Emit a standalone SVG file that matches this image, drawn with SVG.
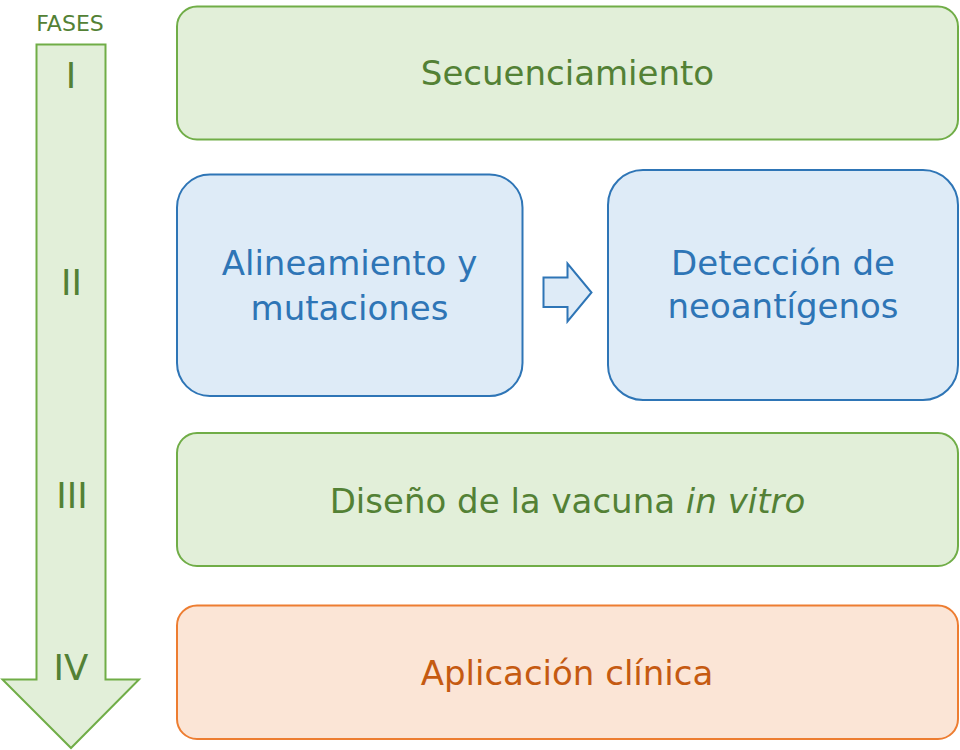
<svg xmlns="http://www.w3.org/2000/svg" width="960" height="750" viewBox="0 0 960 750">
<style>
text{font-family:"DejaVu Sans","Liberation Sans",sans-serif;text-anchor:middle}
.g{fill:#E2EFD9;stroke:#70AD47;stroke-width:2}
.b{fill:#DEEBF7;stroke:#2E75B6;stroke-width:2}
.o{fill:#FBE5D6;stroke:#ED7D31;stroke-width:2}
.tg{fill:#538135;font-size:34px}
.tb{fill:#2E75B6;font-size:34px}
.to{fill:#C55A11;font-size:34px}
.rn{fill:#538135;font-size:35.5px}
.lbl{fill:#538135;font-size:22px}
</style>
<rect width="960" height="750" fill="#FFFFFF"/>
<g id="fases">
<text class="lbl" x="70" y="31">FASES</text>
<polygon class="g" points="36.5,44.5 105.5,44.5 105.5,679.5 139,679.5 71,748 2.5,679.5 36.5,679.5"/>
<text class="rn" x="71" y="88">I</text>
<text class="rn" x="71.5" y="294.5">II</text>
<text class="rn" x="72" y="507.5">III</text>
<text class="rn" x="71" y="679.5">IV</text>
</g>
<g id="secuenciamiento">
<rect class="g" x="177" y="6.5" width="781" height="133" rx="20" ry="20"/>
<text class="tg" x="567.5" y="84.5">Secuenciamiento</text>
</g>
<g id="alineamiento">
<rect class="b" x="177" y="174.5" width="345.5" height="221.5" rx="33" ry="33"/>
<text class="tb" x="349.5" y="275">Alineamiento y</text>
<text class="tb" x="349.5" y="319.5">mutaciones</text>
</g>
<g id="deteccion">
<rect class="b" x="608" y="170" width="350" height="230" rx="35" ry="35"/>
<text class="tb" x="783" y="274.5">Detección de</text>
<text class="tb" x="783" y="318">neoantígenos</text>
</g>
<g id="diseno">
<rect class="g" x="177" y="433" width="781" height="133" rx="20" ry="20"/>
<text class="tg" x="567.5" y="512.5">Diseño de la vacuna <tspan font-style="italic">in vitro</tspan></text>
</g>
<g id="aplicacion">
<rect class="o" x="177" y="605.5" width="781" height="133.5" rx="20" ry="20"/>
<text class="to" x="567" y="685">Aplicación clínica</text>
</g>
<g id="connectors">
<polygon class="b" points="543.5,277.5 567.5,277.5 567.5,263.5 591.5,292.5 567.5,321.5 567.5,307 543.5,307"/>
</g>
</svg>
